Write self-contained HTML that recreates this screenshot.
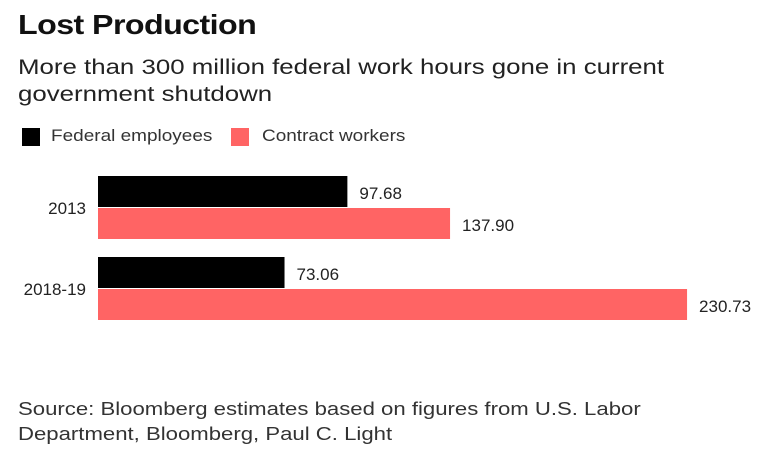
<!DOCTYPE html>
<html><head><meta charset="utf-8"><style>
body{margin:0;background:#fff;width:768px;height:456px;overflow:hidden;font-family:"Liberation Sans",sans-serif;position:relative;color:#111}
.t{position:absolute;white-space:nowrap;transform-origin:0 0}
</style></head><body>
<div class="t" style="left:18px;top:9px;font-size:28px;font-weight:bold;letter-spacing:-0.5px;transform:scaleX(1.15)">Lost Production</div>
<div class="t" style="left:18px;top:54px;font-size:21px;line-height:27px;color:#222;transform:scaleX(1.23)">More than 300 million federal work hours gone in current<br>government shutdown</div>
<div>
<div style="position:absolute;left:22px;top:128px;width:18px;height:18px;background:#000"></div>
<div class="t" style="left:51px;top:127px;font-size:16.5px;color:#333;transform:scaleX(1.15)">Federal employees</div>
<div style="position:absolute;left:231px;top:128px;width:18px;height:18px;background:#ff6464"></div>
<div class="t" style="left:262px;top:127px;font-size:16.5px;color:#333;transform:scaleX(1.15)">Contract workers</div>
</div>
<svg id="chart" width="768" height="456" style="position:absolute;left:0;top:0"></svg>
<div class="t" style="left:18px;top:397px;font-size:18px;line-height:25px;color:#333;transform:scaleX(1.23)">Source: Bloomberg estimates based on figures from U.S. Labor<br>Department, Bloomberg, Paul C. Light</div>
<script>
const categories=["2013","2018-19"];
const federal=[97.68,73.06];
const contract=[137.90,230.73];
const labelsFed=["97.68","73.06"];
const labelsCon=["137.90","230.73"];
const svg=document.getElementById('chart');
const NS='http://www.w3.org/2000/svg';
const x0=98,scale=2.553;
const xs=v=>x0+v*scale;
const groupTop=[176,257];
const bh=32;
function rect(x,y,w,h,fill,name){const r=document.createElementNS(NS,'rect');r.setAttribute('x',x);r.setAttribute('y',y);r.setAttribute('width',w);r.setAttribute('height',h);r.setAttribute('fill',fill);


svg.appendChild(r);}
function text(x,y,s,anchor,name){const t=document.createElementNS(NS,'text');t.setAttribute('x',x);t.setAttribute('y',y);t.setAttribute('text-anchor',anchor);t.setAttribute('font-size','17');t.setAttribute('fill','#222');t.setAttribute('font-family','Liberation Sans, sans-serif');t.textContent=s;


svg.appendChild(t);}
categories.forEach((c,i)=>{
 const y=groupTop[i];
 rect(x0,y,xs(federal[i])-x0,bh-1,'#000','bar-federal-'+c);
 rect(x0,y+bh,xs(contract[i])-x0,bh-1,'#ff6464','bar-contract-'+c);
 text(xs(federal[i])+12,y+23,labelsFed[i],'start','value-federal-'+c);
 text(xs(contract[i])+12,y+bh+23,labelsCon[i],'start','value-contract-'+c);
 text(86,y+bh+6,c,'end','category-label-'+c);
});
</script>
</body></html>
